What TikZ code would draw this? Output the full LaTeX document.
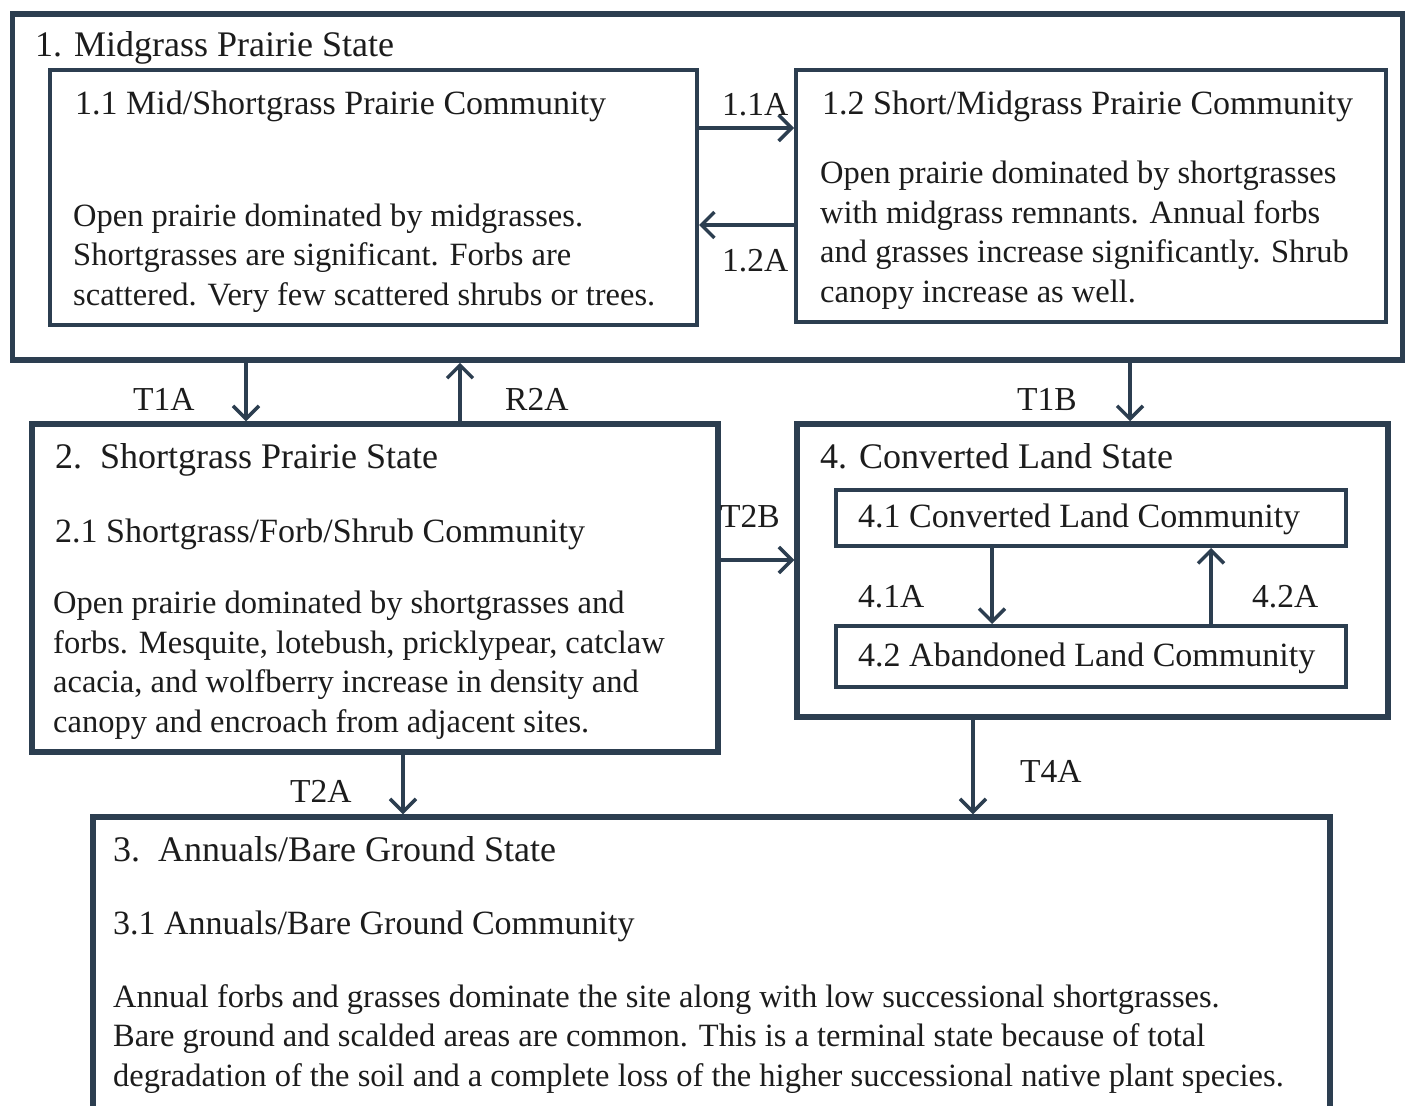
\documentclass[tikz,border=0pt]{standalone}
\usepackage{fontspec}
\setmainfont{Liberation Serif}
\usetikzlibrary{arrows.meta}
\definecolor{edge}{RGB}{44,62,80}
\definecolor{ink}{RGB}{28,28,28}
\begin{document}
\begin{tikzpicture}[x=1pt,y=-1pt,
  statebox/.style={draw=edge,line width=5.5pt,inner sep=0pt},
  commbox/.style={draw=edge,line width=4pt,inner sep=0pt},
  conn/.style={draw=edge,line width=3.5pt,-{Straight Barb[length=13pt,width=26pt,line width=3.5pt]}},
  sttl/.style={anchor=base west,inner sep=0pt,text=ink,font=\fontsize{36}{42}\selectfont},
  ttl/.style={anchor=base west,inner sep=0pt,text=ink,font=\fontsize{34}{40}\selectfont},
  body/.style={anchor=base west,inner sep=0pt,text=ink,align=left,font=\fontsize{32.5}{39.5}\selectfont},
  lbl/.style={anchor=base west,inner sep=0pt,text=ink,font=\fontsize{33.5}{40}\selectfont}]
\clip (0,0) rectangle (1414,1106);
\fill[white] (0,0) rectangle (1414,1106);

% boxes
\node[statebox,minimum width=1390pt,minimum height=346pt] (s1) at (707.5,187) {};
\node[commbox,minimum width=647pt,minimum height=255pt] (b11) at (373.5,197.5) {};
\node[commbox,minimum width=590pt,minimum height=252pt] (b12) at (1091,196) {};
\node[statebox,minimum width=686pt,minimum height=328pt] (s2) at (375,588) {};
\node[statebox,minimum width=591pt,minimum height=293pt] (s4) at (1092.5,570.5) {};
\node[commbox,minimum width=510pt,minimum height=56pt] (b41) at (1091,518) {};
\node[commbox,minimum width=510pt,minimum height=61pt] (b42) at (1091,656.5) {};
\node[statebox,minimum width=1237pt,minimum height=313pt] (s3) at (711.5,973.5) {};

% texts (body nodes: base = baseline of last line)
\node[sttl] (t1) at (35,56) {1. Midgrass Prairie State};
\node[ttl] (t11) at (75,114) {1.1 Mid/Shortgrass Prairie Community};
\node[body] (d11) at (73,305) {Open prairie dominated by midgrasses.\\Shortgrasses are significant. Forbs are\\scattered. Very few scattered shrubs or trees.};
\node[ttl] (t12) at (822,114) {1.2 Short/Midgrass Prairie Community};
\node[body] (d12) at (820,302) {Open prairie dominated by shortgrasses\\with midgrass remnants. Annual forbs\\and grasses increase significantly. Shrub\\canopy increase as well.};
\node[sttl] (t2) at (55,468) {2.\ \ Shortgrass Prairie State};
\node[ttl] (t21) at (55,542) {2.1 Shortgrass/Forb/Shrub Community};
\node[body] (d2) at (53,732) {Open prairie dominated by shortgrasses and\\forbs. Mesquite, lotebush, pricklypear, catclaw\\acacia, and wolfberry increase in density and\\canopy and encroach from adjacent sites.};
\node[sttl] (t4) at (820,468) {4. Converted Land State};
\node[ttl] (t41) at (858,527) {4.1 Converted Land Community};
\node[ttl] (t42) at (858,666) {4.2 Abandoned Land Community};
\node[sttl] (t3) at (113,861) {3.\ \ Annuals/Bare Ground State};
\node[ttl] (t31) at (113,934) {3.1 Annuals/Bare Ground Community};
\node[body] (d3) at (113,1086) {Annual forbs and grasses dominate the site along with low successional shortgrasses.\\Bare ground and scalded areas are common. This is a terminal state because of total\\degradation of the soil and a complete loss of the higher successional native plant species.};

% connector guide coordinates
\coordinate (y11) at (0,128);
\coordinate (y12) at (0,225);
\coordinate (xT1A) at (246,0);
\coordinate (xR2A) at (460,0);
\coordinate (xT1B) at (1130,0);
\coordinate (yT2B) at (0,560);
\coordinate (x41A) at (992,0);
\coordinate (x42A) at (1211,0);
\coordinate (xT2A) at (403,0);
\coordinate (xT4A) at (973,0);

% connectors
\draw[conn] (b11.east |- y11) -- (b12.west |- y11);
\draw[conn] (b12.west |- y12) -- (b11.east |- y12);
\draw[conn] (s1.south -| xT1A) -- (s2.north -| xT1A);
\draw[conn] (s2.north -| xR2A) -- (s1.south -| xR2A);
\draw[conn] (s1.south -| xT1B) -- (s4.north -| xT1B);
\draw[conn] (s2.east |- yT2B) -- (s4.west |- yT2B);
\draw[conn] (b41.south -| x41A) -- (b42.north -| x41A);
\draw[conn] (b42.north -| x42A) -- (b41.south -| x42A);
\draw[conn] (s2.south -| xT2A) -- (s3.north -| xT2A);
\draw[conn] (s4.south -| xT4A) -- (s3.north -| xT4A);

% connector labels
\node[lbl] (l11) at (722,115) {1.1A};
\node[lbl] (l12) at (722,271) {1.2A};
\node[lbl] (lT1A) at (133,410) {T1A};
\node[lbl] (lR2A) at (505,410) {R2A};
\node[lbl] (lT1B) at (1017,410) {T1B};
\node[lbl] (lT2B) at (720,527) {T2B};
\node[lbl] (l41A) at (858,607) {4.1A};
\node[lbl] (l42A) at (1252,607) {4.2A};
\node[lbl] (lT2A) at (290,802) {T2A};
\node[lbl] (lT4A) at (1020,782) {T4A};
\end{tikzpicture}
\end{document}
